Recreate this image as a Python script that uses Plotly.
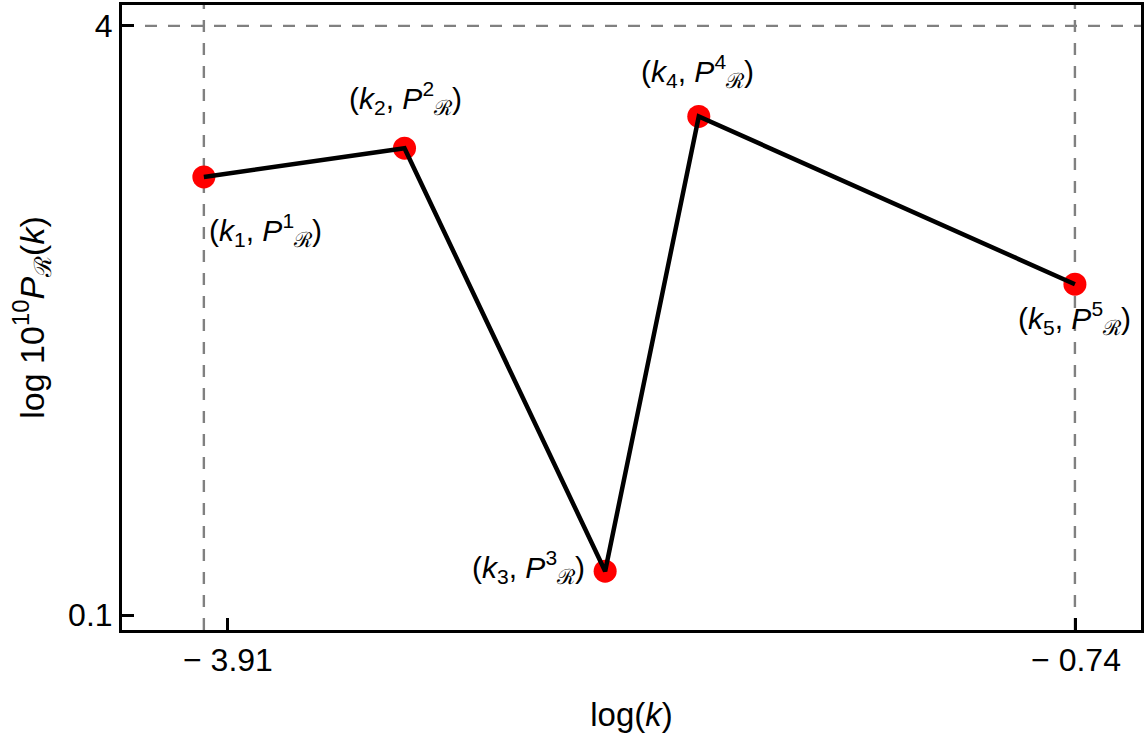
import plotly.graph_objects as go

# data
log_k = [-4.00, -3.25, -2.50, -2.15, -0.744]
log_P = [3.00, 3.19, 0.39, 3.40, 2.29]
labels = ["1", "2", "3", "4", "5"]
x_tickvals = [-3.91, -0.74]
x_ticktext = ["\u2212 3.91", "\u2212 0.74"]
y_tickvals = [0.1, 4]
y_ticktext = ["0.1", "4"]

FONT = "Liberation Sans, Arial, Helvetica, sans-serif"

fig = go.Figure()

fig.add_trace(go.Scatter(
    x=log_k, y=log_P, mode="markers",
    marker=dict(color="red", size=23),
    showlegend=False))
fig.add_trace(go.Scatter(
    x=log_k, y=log_P, mode="lines",
    line=dict(color="black", width=4.5),
    showlegend=False, hoverinfo="skip"))

dash = "12px,11px"
fig.add_shape(type="line", xref="x", yref="paper", x0=log_k[0], x1=log_k[0], y0=0, y1=1,
              line=dict(color="#808080", width=2.4, dash=dash), layer="below")
fig.add_shape(type="line", xref="x", yref="paper", x0=log_k[-1], x1=log_k[-1], y0=0, y1=1,
              line=dict(color="#808080", width=2.4, dash=dash), layer="below")
fig.add_shape(type="line", xref="paper", yref="y", x0=0, x1=1, y0=y_tickvals[1], y1=y_tickvals[1],
              line=dict(color="#808080", width=2.4, dash=dash), layer="below")

shifts = [(62, -53), (1, 50), (-77, 4), (-1, 45), (0, -34)]
for xv, yv, lab, (dx, dy) in zip(log_k, log_P, labels, shifts):
    txt = f"(<i>k</i><sub>{lab}</sub>, <i>P</i><sup>{lab}</sup><sub>\u211b</sub>)"
    fig.add_annotation(x=xv, y=yv, xref="x", yref="y", text=txt, showarrow=False,
                       xshift=dx, yshift=dy, font=dict(family=FONT, size=30, color="black"))

fig.update_layout(
    width=1146, height=739,
    margin=dict(l=122, r=4, t=2, b=109),
    paper_bgcolor="white", plot_bgcolor="white",
    font=dict(family=FONT, size=32, color="black"),
    xaxis=dict(range=[-4.306, -0.497], showgrid=False, zeroline=False,
               showline=True, linecolor="black", linewidth=3, mirror=True,
               ticks="inside", ticklen=12, tickwidth=2.5, tickcolor="black",
               tickvals=x_tickvals, ticktext=x_ticktext,
               tickfont=dict(size=32),
               title=dict(text="log(<i>k</i>)", font=dict(size=33), standoff=26)),
    yaxis=dict(range=[0.001, 4.138], showgrid=False, zeroline=False,
               showline=True, linecolor="black", linewidth=3, mirror=True,
               ticks="inside", ticklen=12, tickwidth=2.5, tickcolor="black",
               tickvals=y_tickvals, ticktext=y_ticktext,
               tickfont=dict(size=32),
               title=dict(text="log 10<sup>10</sup><i>P</i><sub>\u211b</sub>(<i>k</i>)",
                          font=dict(size=34), standoff=14)),
)

fig.write_html("out.html", config={"displayModeBar": False},
               post_script="document.body.style.margin='0';document.body.style.overflow='hidden';")
